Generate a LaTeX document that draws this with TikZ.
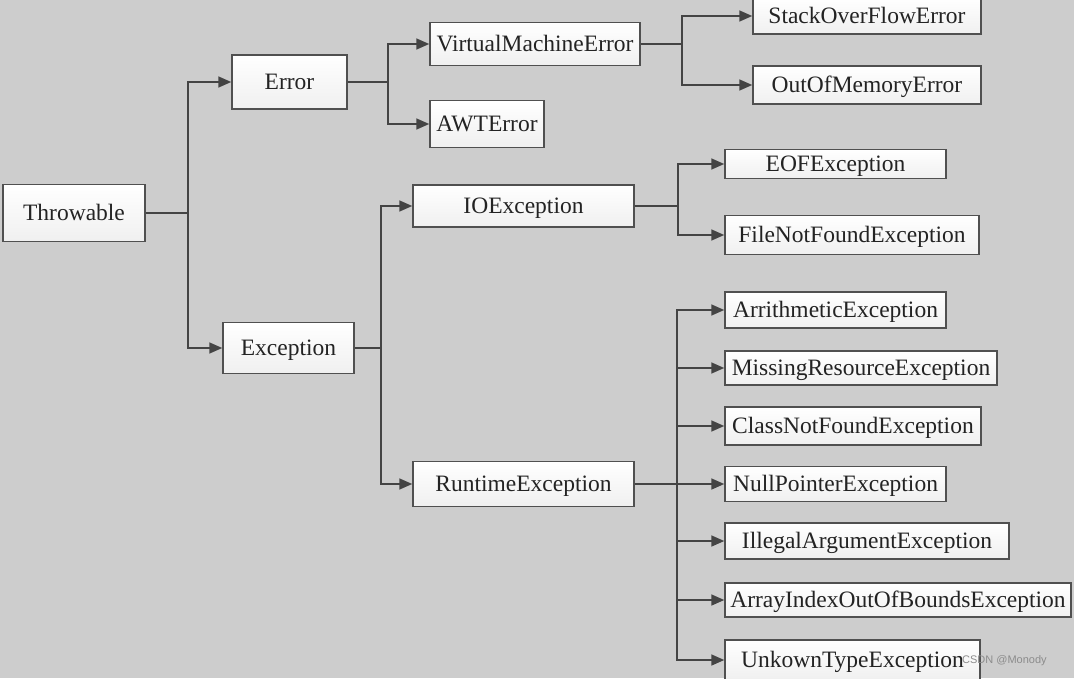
\documentclass[tikz,border=0pt]{standalone}
\usepackage{fontspec}
\setmainfont{Liberation Serif}
\newfontfamily\wmfont{Liberation Sans}
\usetikzlibrary{arrows.meta}
\definecolor{bgc}{RGB}{205,205,205}
\definecolor{edgec}{RGB}{80,80,80}
\definecolor{linec}{RGB}{68,68,68}
\definecolor{txtc}{RGB}{35,35,35}
\tikzset{
  cls/.style={draw=edgec, line width=1.5pt, top color=white, bottom color=black!6,
    inner sep=0pt, text=txtc, font=\fontsize{23.5}{26}\selectfont,
    text height=15.6pt, text depth=0pt},
  conn/.style={draw=linec, line width=1.7pt, -{Triangle[length=13pt,width=11pt]}},
  plain/.style={draw=linec, line width=1.7pt}
}
\begin{document}
\begin{tikzpicture}[x=1pt,y=-1pt]
\fill[bgc] (0,0) rectangle (1074,678);
\useasboundingbox (0,0) rectangle (1074,678);

\newcommand{\cbox}[6]{\node[cls, minimum width=#4pt, minimum height=#5pt] (#1) at (#2,#3) {#6};}
\cbox{thr}{74}{213}{142}{57}{Throwable}
\cbox{err}{289.5}{82}{115}{54}{Error}
\cbox{exc}{288.5}{348}{131}{51}{Exception}
\cbox{vme}{535}{44}{210}{43}{VirtualMachineError}
\cbox{awt}{487}{124}{114}{47}{AWTError}
\cbox{soe}{867}{16}{228}{36}{StackOverFlowError}
\cbox{oom}{867}{85}{228}{38}{OutOfMemoryError}
\cbox{ioe}{523.5}{206}{221}{42}{IOException}
\cbox{rte}{523.5}{484}{221}{45}{RuntimeException}
\cbox{eof}{835.5}{164}{221}{29}{EOFException}
\cbox{fnf}{852}{235}{254}{39}{FileNotFoundException}
\cbox{ari}{835.5}{310}{221}{36}{ArrithmeticException}
\cbox{mis}{861}{368}{272}{34}{MissingResourceException}
\cbox{cnf}{853}{426}{256}{38}{ClassNotFoundException}
\cbox{npe}{835.5}{484}{221}{35}{NullPointerException}
\cbox{iae}{867}{541}{284}{36}{IllegalArgumentException}
\cbox{aio}{898}{600}{346}{34}{ArrayIndexOutOfBoundsException}
\cbox{ute}{852.5}{660}{255}{40}{UnkownTypeException}

% junction x positions
\coordinate (jthr) at (188,0);
\coordinate (jerr) at (388,0);
\coordinate (jvme) at (682,0);
\coordinate (jexc) at (381,0);
\coordinate (jioe) at (678,0);
\coordinate (jrte) at (677,0);

\draw[plain] (thr.east) -- (thr.east -| jthr);
\draw[conn] (thr.east -| jthr) |- (err.west);
\draw[conn] (thr.east -| jthr) |- (exc.west);

\draw[plain] (err.east) -- (err.east -| jerr);
\draw[conn] (err.east -| jerr) |- (vme.west);
\draw[conn] (err.east -| jerr) |- (awt.west);

\draw[plain] (vme.east) -- (vme.east -| jvme);
\draw[conn] (vme.east -| jvme) |- (soe.west);
\draw[conn] (vme.east -| jvme) |- (oom.west);

\draw[plain] (exc.east) -- (exc.east -| jexc);
\draw[conn] (exc.east -| jexc) |- (ioe.west);
\draw[conn] (exc.east -| jexc) |- (rte.west);

\draw[plain] (ioe.east) -- (ioe.east -| jioe);
\draw[conn] (ioe.east -| jioe) |- (eof.west);
\draw[conn] (ioe.east -| jioe) |- (fnf.west);

\draw[plain] (rte.east) -- (rte.east -| jrte);
\foreach \t in {ari,mis,cnf,npe,iae,aio,ute}
  \draw[conn] (rte.east -| jrte) |- (\t.west);

\node[font=\wmfont\fontsize{11}{12}\selectfont, text=black!45, anchor=west, inner sep=0pt] (wm) at (962,661) {CSDN @Monody};
\end{tikzpicture}
\end{document}
